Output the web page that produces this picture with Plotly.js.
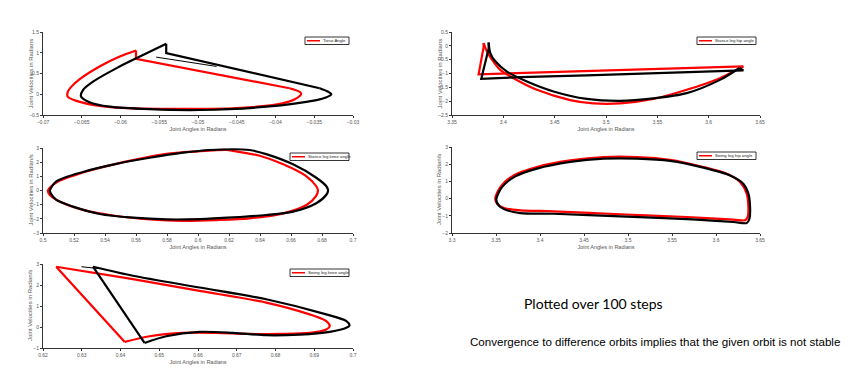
<!DOCTYPE html>
<html>
<head>
<meta charset="utf-8">
<script src="https://cdn.plot.ly/plotly-3.0.1.min.js"></script>
<style>html,body{margin:0;padding:0;background:#fff;}#chart{width:850px;height:381px;}</style>
</head>
<body>
<div id="chart"></div>
<script>
// ---------- Data ----------
// Torso angle
const torsoRedX = [-0.0580, -0.0580, -0.0382, -0.0368, -0.0367, -0.0375, -0.0391, -0.0455, -0.0519, -0.0584, -0.0627, -0.0657, -0.0668, -0.0668, -0.0663, -0.0653, -0.0627, -0.0601, -0.0580];
const torsoRedY = [1.056, 0.855, 0.145, 0.05, 0.0, -0.12, -0.22, -0.34, -0.35, -0.34, -0.28, -0.16, -0.06, 0.06, 0.19, 0.36, 0.67, 0.91, 1.056];
const torsoBlackX = [-0.0541, -0.0541, -0.0343, -0.0332, -0.0328, -0.0335, -0.0347, -0.0412, -0.0498, -0.0562, -0.0614, -0.0640, -0.0651, -0.0648, -0.0635, -0.0605, -0.0575, -0.0541];
const torsoBlackY = [1.218, 0.99, 0.145, 0.06, 0.0, -0.08, -0.14, -0.30, -0.38, -0.36, -0.30, -0.19, -0.05, 0.11, 0.31, 0.63, 0.91, 1.218];
const torsoStartX = [-0.0554, -0.0476];
const torsoStartY = [0.895, 0.67];

// Stance leg hip angle
const sHipRedX = [3.3808, 3.3808, 3.3759, 3.4200, 3.4813, 3.5462, 3.6110, 3.6338, 3.6321, 3.6240, 3.6110, 3.5786, 3.5462, 3.5138, 3.4878, 3.4651, 3.4327, 3.4100, 3.3970, 3.3889, 3.3840, 3.3808];
const sHipRedY = [0.10, -0.05, -1.03, -0.98, -0.91, -0.84, -0.77, -0.74, -0.78, -0.93, -1.17, -1.59, -1.92, -2.08, -2.08, -1.96, -1.59, -1.17, -0.87, -0.50, -0.20, 0.10];
const sHipBlackX = [3.3857, 3.3857, 3.3785, 3.4165, 3.4813, 3.5462, 3.6110, 3.6338, 3.6300, 3.6110, 3.5786, 3.5462, 3.5138, 3.4813, 3.4489, 3.4230, 3.4035, 3.3922, 3.3873, 3.3857];
const sHipBlackY = [0.12, -0.10, -1.19, -1.13, -1.07, -0.99, -0.90, -0.89, -0.80, -1.23, -1.71, -1.90, -1.99, -1.92, -1.65, -1.29, -0.93, -0.56, -0.26, 0.12];

// Stance leg knee angle
const sKneeRedX = [0.5903, 0.5688, 0.5473, 0.5258, 0.5108, 0.5043, 0.5032, 0.5086, 0.5258, 0.5473, 0.5796, 0.6000, 0.6183, 0.6226, 0.6398, 0.6550, 0.6700, 0.6763, 0.6774, 0.6760, 0.6700, 0.6550, 0.6333, 0.6118, 0.5903];
const sKneeRedY = [-2.14, -2.04, -1.80, -1.37, -0.78, -0.30, 0.01, 0.56, 1.27, 1.88, 2.58, 2.76, 2.86, 2.80, 2.45, 1.85, 1.00, 0.30, 0.01, -0.42, -1.02, -1.61, -1.97, -2.09, -2.14];
const sKneeBlackX = [0.5796, 0.5580, 0.5366, 0.5194, 0.5086, 0.5050, 0.5045, 0.5086, 0.5258, 0.5473, 0.5688, 0.5903, 0.6075, 0.6333, 0.6440, 0.6613, 0.6763, 0.6828, 0.6839, 0.6828, 0.6763, 0.6613, 0.6440, 0.6226, 0.6011, 0.5796];
const sKneeBlackY = [-2.04, -1.92, -1.66, -1.14, -0.66, -0.20, 0.01, 0.64, 1.31, 1.88, 2.31, 2.67, 2.86, 2.86, 2.57, 1.85, 0.90, 0.30, 0.01, -0.30, -0.90, -1.49, -1.73, -1.90, -2.02, -2.04];

// Swing leg hip angle
const wHipRedX = [3.6330, 3.6197, 3.5668, 3.4911, 3.4154, 3.3776, 3.3625, 3.3530, 3.3492, 3.3549, 3.3700, 3.3965, 3.4343, 3.4722, 3.5100, 3.5479, 3.5857, 3.6122, 3.6273, 3.6349, 3.6368, 3.6360, 3.6330];
const wHipRedY = [-1.26, -1.22, -1.07, -0.91, -0.74, -0.68, -0.59, -0.39, -0.004, 0.67, 1.35, 1.84, 2.22, 2.42, 2.42, 2.26, 1.84, 1.45, 0.97, 0.29, -0.49, -1.07, -1.26];
const wHipBlackX = [3.6349, 3.6197, 3.5668, 3.4911, 3.4154, 3.3776, 3.3625, 3.3540, 3.3503, 3.3568, 3.3720, 3.3965, 3.4343, 3.4722, 3.5100, 3.5479, 3.5857, 3.6160, 3.6310, 3.6368, 3.6387, 3.6380, 3.6349];
const wHipBlackY = [-1.42, -1.36, -1.19, -1.03, -0.88, -0.84, -0.68, -0.45, -0.06, 0.67, 1.29, 1.74, 2.13, 2.32, 2.32, 2.19, 1.80, 1.35, 0.87, 0.29, -0.49, -1.17, -1.42];

// Swing leg knee angle
const wKneeRedX = [0.6234, 0.6411, 0.6475, 0.6561, 0.6647, 0.6733, 0.6819, 0.6888, 0.6931, 0.6940, 0.6931, 0.6888, 0.6776, 0.6604, 0.6432, 0.6234];
const wKneeRedY = [2.87, -0.71, -0.44, -0.28, -0.28, -0.33, -0.33, -0.28, -0.12, 0.04, 0.28, 0.60, 1.16, 1.72, 2.28, 2.87];
const wKneeBlackX = [0.6329, 0.6462, 0.6518, 0.6604, 0.6690, 0.6776, 0.6862, 0.6940, 0.6983, 0.6991, 0.6983, 0.6931, 0.6776, 0.6604, 0.6432, 0.6329];
const wKneeBlackY = [2.87, -0.76, -0.44, -0.23, -0.28, -0.39, -0.36, -0.23, -0.04, 0.07, 0.28, 0.60, 1.32, 1.88, 2.44, 2.87];
const wKneeStartX = [0.6299, 0.6345];
const wKneeStartY = [2.87, 2.78];

const legendLabels = ["Torso Angle", "Stance leg hip angle", "Stance leg knee angle", "Swing leg hip angle", "Swing leg knee angle"];
const xTitle = "Joint Angles in Radians";
const yTitles = ["Joint Velocities in Radians", "Joint Velocities in Radians", "Joint Velocities in Radian/s", "Joint Velocities in Radian/s", "Joint Velocities in Radian/s"];
const noteTitle = "Plotted over 100 steps";
const noteText = "Convergence to difference orbits implies that the given orbit is not stable";

// ---------- Layout helpers ----------
const W = 850, H = 381;
const px = v => v / W;
const py = v => 1 - v / H;
const RED = "#ff0000", BLACK = "#000000";
const AXLINE = "#333333", AXTXT = "#555555";
const FONT = "Liberation Sans, Arial, sans-serif";

// pixel boxes [left, right, top, bottom]
const boxes = [
  [43, 353, 32, 115],
  [452, 760, 32, 115],
  [43, 353, 148, 233],
  [452, 760, 147, 233],
  [43, 353, 264, 348]
];
const xr = [[-0.07, -0.03], [3.35, 3.65], [0.5, 0.7], [3.3, 3.65], [0.62, 0.7]];
const xd = [0.005, 0.05, 0.02, 0.05, 0.01];
const yr = [[-0.5, 1.5], [-2.5, 0.5], [-3, 3], [-2, 3], [-1, 3]];
const yd = [0.5, 0.5, 1, 1, 1];

// each orbit: red, black, optional thin black start; segments [from, to, shape]
const series = [
  {r: [torsoRedX, torsoRedY], b: [torsoBlackX, torsoBlackY], s: [torsoStartX, torsoStartY],
   rs: [[0, 2, "linear"], [2, 18, "spline"]], bs: [[0, 2, "linear"], [2, 17, "spline"]]},
  {r: [sHipRedX, sHipRedY], b: [sHipBlackX, sHipBlackY], s: null,
   rs: [[0, 7, "linear"], [7, 21, "spline"]], bs: [[0, 8, "linear"], [8, 19, "spline"]]},
  {r: [sKneeRedX, sKneeRedY], b: [sKneeBlackX, sKneeBlackY], s: null,
   rs: [[0, 24, "spline"]], bs: [[0, 25, "spline"]]},
  {r: [wHipRedX, wHipRedY], b: [wHipBlackX, wHipBlackY], s: null,
   rs: [[0, 22, "spline"]], bs: [[0, 22, "spline"]]},
  {r: [wKneeRedX, wKneeRedY], b: [wKneeBlackX, wKneeBlackY], s: [wKneeStartX, wKneeStartY],
   rs: [[0, 1, "linear"], [1, 15, "spline"]], bs: [[0, 1, "linear"], [1, 15, "spline"]]}
];

const data = [];
const layout = {
  width: W, height: H,
  margin: {l: 0, r: 0, t: 0, b: 0},
  paper_bgcolor: "#fff", plot_bgcolor: "#fff",
  showlegend: false, hovermode: false,
  font: {family: FONT, color: AXTXT},
  shapes: [], annotations: []
};

function addSegments(xy, segs, color, xa, ya) {
  segs.forEach(sg => {
    data.push({x: xy[0].slice(sg[0], sg[1] + 1), y: xy[1].slice(sg[0], sg[1] + 1), xaxis: xa, yaxis: ya,
      mode: "lines", line: {color: color, width: 2.2, shape: sg[2], smoothing: 0.8}});
  });
}

series.forEach((s, i) => {
  const n = i + 1;
  const xa = "x" + (n === 1 ? "" : n), ya = "y" + (n === 1 ? "" : n);
  addSegments(s.r, s.rs, RED, xa, ya);
  addSegments(s.b, s.bs, BLACK, xa, ya);
  if (s.s) data.push({x: s.s[0], y: s.s[1], xaxis: xa, yaxis: ya, mode: "lines", line: {color: BLACK, width: 1}});
  const b = boxes[i];
  const common = {showgrid: false, zeroline: false, showline: true, linecolor: AXLINE, linewidth: 1,
    ticks: "outside", ticklen: 2, tickcolor: AXLINE, tickfont: {size: 5, color: AXTXT, family: FONT}, automargin: false};
  layout["xaxis" + (n === 1 ? "" : n)] = Object.assign({}, common, {
    domain: [px(b[0]), px(b[1])], anchor: ya, range: xr[i], tick0: xr[i][0], dtick: xd[i],
    title: {text: xTitle, font: {size: 5.5, color: AXTXT}, standoff: 3}
  });
  layout["yaxis" + (n === 1 ? "" : n)] = Object.assign({}, common, {
    domain: [py(b[3]), py(b[2])], anchor: xa, range: yr[i], tick0: yr[i][0], dtick: yd[i]
  });
  // y-axis title placed beside the axis
  layout.annotations.push({xref: "paper", yref: "paper", x: px(b[0] - 13), y: py((b[2] + b[3]) / 2),
    xanchor: "center", yanchor: "middle", textangle: -90, text: yTitles[i], showarrow: false,
    font: {size: 6, color: AXTXT, family: FONT}});
  // legend box
  const lw = legendLabels[i].length > 12 ? 59 : 44;
  const L0 = b[1] - lw - 4, L1 = b[1] - 4;
  const T0 = b[2] + 5, T1 = b[2] + 12.5;
  layout.shapes.push({type: "rect", xref: "paper", yref: "paper", x0: px(L0), x1: px(L1), y0: py(T1), y1: py(T0),
    line: {color: "#000", width: 0.8}, fillcolor: "#fff", layer: "above"});
  layout.shapes.push({type: "line", xref: "paper", yref: "paper", x0: px(L0 + 2), x1: px(L0 + 15), y0: py((T0 + T1) / 2), y1: py((T0 + T1) / 2),
    line: {color: RED, width: 1.5}, layer: "above"});
  layout.annotations.push({xref: "paper", yref: "paper", x: px(L0 + 16), y: py((T0 + T1) / 2), xanchor: "left", yanchor: "middle",
    text: legendLabels[i], showarrow: false, font: {size: 4.3, color: "#222", family: FONT}});
});

layout.annotations.push({xref: "paper", yref: "paper", x: px(593), y: py(303), xanchor: "center", yanchor: "middle",
  text: noteTitle, showarrow: false, font: {size: 14, color: "#000", family: "Lato, Open Sans, sans-serif"}});
layout.annotations.push({xref: "paper", yref: "paper", x: px(655), y: py(341), xanchor: "center", yanchor: "middle",
  text: noteText, showarrow: false, font: {size: 11.6, color: "#000", family: FONT}});

Plotly.newPlot("chart", data, layout, {staticPlot: true, displayModeBar: false});
</script>
</body>
</html>
